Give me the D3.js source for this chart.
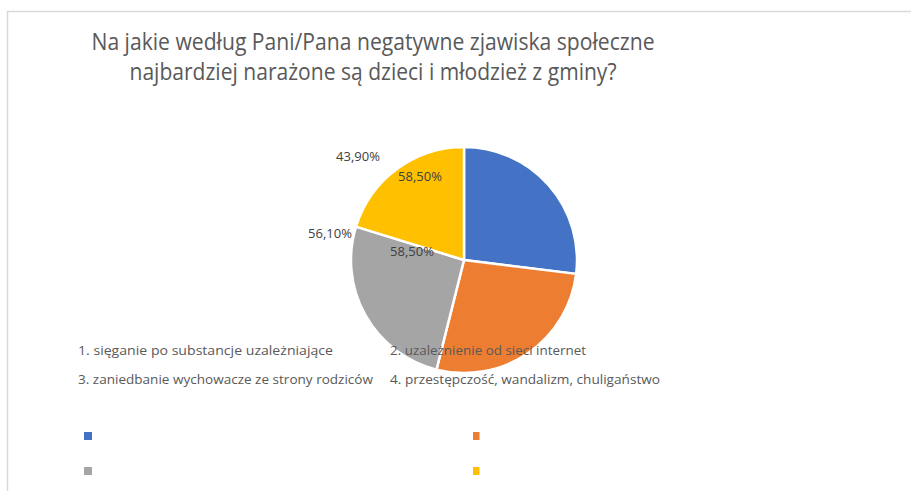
<!DOCTYPE html>
<html><head><meta charset="utf-8">
<script src="https://cdn.jsdelivr.net/npm/d3@7"></script>
<style>body{margin:0;background:#fff}svg{display:block}</style>
</head><body>
<svg id="c" width="911" height="491"></svg>
<script>
const categories = [
  "1. sięganie po substancje uzależniające",
  "2. uzależnienie od sieci internet",
  "3. zaniedbanie wychowacze ze strony rodziców",
  "4. przestępczość, wandalizm, chuligaństwo"
];
const values = [58.5, 58.5, 56.1, 43.9];
const labelTexts = ["58,50%", "58,50%", "56,10%", "43,90%"];
const colors = ["#4472c4", "#ed7d31", "#a5a5a5", "#ffc000"];
const titleLines = ["Na jakie według Pani/Pana negatywne zjawiska społeczne",
                    "najbardziej narażone są dzieci i młodzież z gminy?"];

const svg = d3.select("#c");
const font = "'Open Sans', 'Liberation Sans', sans-serif";

// frame
svg.append("rect").attr("x", 7.5).attr("y", 11.5).attr("width", 910).attr("height", 490)
  .attr("fill", "#fff").attr("stroke", "#d9d9d9").attr("stroke-width", 1.5);

// title
const titleW = [563, 487];
svg.selectAll("text.title").data(titleLines).join("text")
  .attr("class", "title")
  .attr("x", 373).attr("y", (d, i) => 50 + i * 30)
  .attr("text-anchor", "middle")
  .attr("font-family", font).attr("font-size", 23.5)
  .attr("fill", "#595959")
  .attr("textLength", (d, i) => titleW[i]).attr("lengthAdjust", "spacingAndGlyphs")
  .text(d => d);

// pie
const cx = 464, cy = 260, r = 113;
const pie = d3.pie().sort(null).value(d => d)(values);
const arc = d3.arc().innerRadius(0).outerRadius(r);
const g = svg.append("g").attr("transform", `translate(${cx},${cy})`);
g.selectAll("path").data(pie).join("path")
  .attr("d", arc).attr("fill", (d, i) => colors[i])
  .attr("stroke", "#fff").attr("stroke-width", 2.5).attr("stroke-linejoin", "round");

// data labels (misplaced as in the source chart)
const labelOffsets = [[-44, -82], [-52, -7], [-134, -25], [-106, -102]];
g.selectAll("text.lbl").data(labelTexts).join("text")
  .attr("class", "lbl")
  .attr("x", (d, i) => labelOffsets[i][0]).attr("y", (d, i) => labelOffsets[i][1])
  .attr("text-anchor", "middle").attr("dominant-baseline", "middle")
  .attr("font-family", font).attr("font-size", 13).attr("fill", "#404040")
  .text(d => d);

// legend texts
const legTextW = [255, 196, 295, 270];
const colX = d3.scaleOrdinal().domain([0, 1]).range([78, 390]);
const rowY = d3.scaleOrdinal().domain([0, 1]).range([354.5, 383.5]);
svg.selectAll("text.leg").data(categories).join("text")
  .attr("class", "leg")
  .attr("x", (d, i) => colX(i % 2)).attr("y", (d, i) => rowY(Math.floor(i / 2)))
  .attr("font-family", font).attr("font-size", 12.5).attr("fill", "#595959")
  .attr("textLength", (d, i) => legTextW[i]).attr("lengthAdjust", "spacingAndGlyphs")
  .text(d => d);

// legend markers (detached, as in source)
const mX = d3.scaleOrdinal().domain([0, 1]).range([84, 473]);
const mW = [8, 6.5];
const mY = d3.scaleOrdinal().domain([0, 1]).range([432, 467]);
svg.selectAll("rect.mk").data(categories).join("rect")
  .attr("class", "mk")
  .attr("x", (d, i) => mX(i % 2)).attr("y", (d, i) => mY(Math.floor(i / 2)))
  .attr("width", (d, i) => mW[i % 2]).attr("height", 8)
  .attr("fill", (d, i) => colors[i]);
</script>
</body></html>
